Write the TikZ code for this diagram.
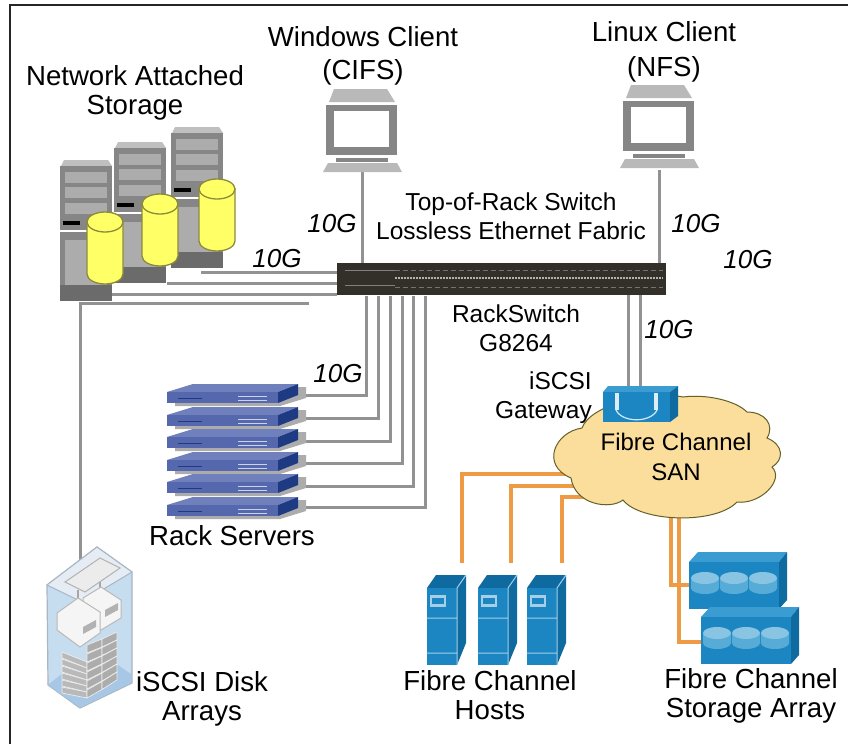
\documentclass[tikz,border=0pt]{standalone}
\usepackage{fontspec}
\setmainfont{Liberation Sans}
\usepackage{tikz}
\usetikzlibrary{calc}

\definecolor{cablegray}{HTML}{929292}
\definecolor{fcorange}{HTML}{EF9B45}
\definecolor{fcblue}{HTML}{1B86C2}
\definecolor{fcdark}{HTML}{0F6AA0}
\definecolor{fclight}{HTML}{3A9CD0}
\definecolor{cloudfill}{HTML}{FBDD9C}
\definecolor{rackblue}{HTML}{5568AE}
\definecolor{racktop}{HTML}{6F80BC}
\definecolor{rackdark}{HTML}{1E3A82}
\definecolor{diskyellow}{HTML}{FFFF66}
\definecolor{diskedge}{HTML}{8C8A3C}
\definecolor{isside}{HTML}{C6DCEF}
\definecolor{isfloor}{HTML}{A6C8E6}
\definecolor{istop}{HTML}{E6ECF3}
\definecolor{isedge}{HTML}{A9B6C4}

\tikzset{
  lbl/.style={align=center, inner sep=0pt, font=\fontsize{27.6}{29}\selectfont},
  smalllbl/.style={align=center, inner sep=0pt, font=\fontsize{24.5}{29}\selectfont},
  speed/.style={inner sep=0pt, font=\fontsize{26}{29}\selectfont\itshape},
  cable/.style={cablegray, line width=3pt},
  fccable/.style={fcorange, line width=3.6pt},
  box/.style={inner sep=0pt, outer sep=0pt, anchor=north west},
  pics/nasbox/.style={code={
    \fill[gray!50] (1,0) -- (4,-6) -- (48,-6) -- (52,0) -- cycle;
    \fill[gray!95] (0,0) rectangle (52,119);
    \fill[black!58] (0,119) rectangle (52,135);
    \foreach \y in {6,21,37} \fill[gray!65] (5,\y) rectangle (47,\y+11);
    \fill[black] (3,55) rectangle (20,59);
    \fill[white] (0,64) rectangle (30,66);
    \fill[gray!65] (5,74) rectangle (47,119);
  }},
  pics/nasdisk/.style={code={
    \draw[diskedge, line width=1.3pt, fill=diskyellow]
      (-18,0) -- (-18,52) arc[start angle=180, end angle=0, x radius=18, y radius=10] -- (18,0) -- cycle;
    \draw[diskedge, line width=1.3pt, fill=diskyellow] (0,0) ellipse[x radius=18, y radius=10];
  }},
  pics/client/.style={code={
    \fill[gray!55] (8,-16) -- (61,-16) -- (69,-3) -- (3,-3) -- cycle;
    \fill[gray!95] (0,0) rectangle (71,50);
    \fill[white] (8,6) rectangle (63,42);
    \fill[gray!95] (10,53) rectangle (62,57);
    \fill[gray!55] (2,58) -- (71,58) -- (76,67) -- (-3,67) -- cycle;
  }},
  pics/rackunit/.style={code={
    \fill[gray!65] (131,3) -- (139,3) -- (139,14) -- (113,22) -- (8,22) -- (8,19) -- (111,19) -- cycle;
    \fill[racktop] (0,8) -- (26,0) -- (131,0) -- (111,8) -- cycle;
    \fill[rackblue] (0,8) rectangle (111,19);
    \fill[rackdark] (111,8) -- (131,0) -- (131,11) -- (111,19) -- cycle;
    \draw[rackdark, line width=1pt] (11,14) -- (35,14);
    \draw[white!70!rackblue, line width=.8pt] (71,12) -- (100,12) (71,16) -- (100,16);
  }},
  pics/fchost/.style={code={
    \fill[fcdark] (30,13) -- (39,0) -- (39,68) -- (30,90) -- cycle;
    \fill[fcdark] (0,13) -- (9,0) -- (39,0) -- (30,13) -- cycle;
    \fill[fcblue] (0,13) rectangle (30,90);
    \draw[white!60!fcblue, line width=1pt] (30,13) -- (30,90) (30,13) -- (39,0) (0,43) -- (30,43) (0,78) -- (30,78);
    \fill[white!60!fcblue] (3,20) rectangle (19,32);
    \fill[fcblue] (5,23) rectangle (17,29);
  }},
  pics/fcdisk/.style={code={
    \fill[fclight!85!white] (-14,0) -- (-14,10) arc[start angle=180, end angle=0, x radius=14, y radius=6] -- (14,0) -- cycle;
    \fill[fclight!60!white] (0,0) ellipse[x radius=14, y radius=6];
  }},
  pics/fcarray/.style={code={
    \fill[fclight] (0,10) -- (9,0) -- (98,0) -- (90,10) -- cycle;
    \fill[fcdark] (90,10) -- (98,0) -- (98,48) -- (90,57) -- cycle;
    \fill[fcblue] (0,10) rectangle (90,57);
    \foreach \x in {16,45,74} \pic at (\x,26) {fcdisk};
  }},
}

\begin{document}
\begin{tikzpicture}[x=1pt, y=-1pt]
    \useasboundingbox (0,0) rectangle (848,744);
    \fill[white] (0,0) rectangle (848,744);
    \draw[black!85, line width=1.5pt] (10,744) -- (10,5) -- (848,5);

    % switch and the named ends of the cables
    \node[box, fill=black!85!olive, minimum width=329pt, minimum height=32pt] (switch) at (337,263) {};
    \draw[white!70!black, line width=2pt, dash pattern=on 2pt off 1pt] (395,278) -- (663,278);
    \draw[black!55, line width=1pt, dash pattern=on 5pt off 3pt] (395,270) -- (663,270) (395,287) -- (663,287);
    \draw[black!50, line width=1pt] (345,270) -- (395,270) (345,285) -- (395,285);

    \coordinate (nasA) at (201,272);
    \coordinate (nasB) at (167,283);
    \coordinate (nasC) at (112,294);
    \coordinate (nasD) at (80,303);
    \coordinate (nasEnd) at (309,303);
    \coordinate (winpc) at (362,172);
    \coordinate (linuxpc) at (659,170);
    \coordinate (gwA) at (628,386);
    \coordinate (gwB) at (640,386);
    \coordinate (portA) at (366,296);
    \coordinate (portB) at (378,296);
    \coordinate (portC) at (390,296);
    \coordinate (portD) at (402,296);
    \coordinate (portE) at (413,296);
    \coordinate (portF) at (425,296);
    \coordinate (rackA) at (305,395);
    \coordinate (rackB) at (305,418);
    \coordinate (rackC) at (305,441);
    \coordinate (rackD) at (305,463);
    \coordinate (rackE) at (305,486);
    \coordinate (rackF) at (305,507);
    \coordinate (iscsi) at (80,562);
    \coordinate (hostA) at (462,563);
    \coordinate (hostB) at (511,563);
    \coordinate (hostC) at (562,563);
    \coordinate (cloudA) at (575,474);
    \coordinate (cloudB) at (585,486);
    \coordinate (cloudC) at (592,497);
    \coordinate (cloudD) at (671,510);
    \coordinate (cloudE) at (679,510);
    \coordinate (arrayA) at (692,585);
    \coordinate (arrayB) at (703,642);

    \draw[cable] (nasA) -- (nasA -| switch.west);
    \draw[cable] (nasB) -- (nasB -| switch.west);
    \draw[cable] (nasC) -- (nasC -| switch.west);
    \draw[cable] (nasEnd) -- (nasD) -- (iscsi);
    \draw[cable] (winpc) -- (winpc |- switch.north);
    \draw[cable] (linuxpc) -- (linuxpc |- switch.north);
    \draw[cable] (gwA) -- (gwA |- switch.south);
    \draw[cable] (gwB) -- (gwB |- switch.south);
    \draw[cable] (rackA) -| (portA);
    \draw[cable] (rackB) -| (portB);
    \draw[cable] (rackC) -| (portC);
    \draw[cable] (rackD) -| (portD);
    \draw[cable] (rackE) -| (portE);
    \draw[cable] (rackF) -| (portF);

    \draw[fccable] (hostA) |- (cloudA);
    \draw[fccable] (hostB) |- (cloudB);
    \draw[fccable] (hostC) |- (cloudC);
    \draw[fccable] (cloudD) |- (arrayA);
    \draw[fccable] (cloudE) |- (arrayB);

    % cloud and gateway
    \draw[black!30!diskedge, fill=cloudfill, line width=1pt] (582,428)
      .. controls (555,432) and (540,465) .. (571,478)
      .. controls (575,505) and (610,510) .. (623,500)
      .. controls (640,522) and (715,525) .. (737,502)
      .. controls (760,505) and (785,480) .. (772,467)
      .. controls (784,460) and (784,445) .. (767,438)
      .. controls (775,425) and (765,412) .. (747,412)
      .. controls (735,400) and (705,394) .. (683,397)
      .. controls (650,390) and (590,405) .. cycle;
    \fill[fclight] (603,392) -- (608,386) -- (678,386) -- (670,392) -- cycle;
    \fill[fcdark] (670,392) -- (678,386) -- (678,416) -- (670,422) -- cycle;
    \node[box, fill=fcblue, minimum width=67pt, minimum height=30pt] (gateway) at (603,392) {};
    \draw[white!85!fcblue, line width=3.5pt] (617,393) -- (617,410) (656,393) -- (656,410);
    \draw[white!80!fcblue, line width=1.2pt] (616,410) .. controls (622,423) and (651,423) .. (657,410);

    % network attached storage
    \pic at (171,133) {nasbox};
    \pic at (114,148) {nasbox};
    \pic at (60,166) {nasbox};
    \pic at (217,189) {nasdisk};
    \pic at (160,204) {nasdisk};
    \pic at (105,222) {nasdisk};

    % clients
    \pic at (326,105) {client};
    \pic at (623,101) {client};

    % rack servers
    \foreach \y in {384,407,429,452,474,497} \pic at (167,\y) {rackunit};

    % fibre channel devices
    \pic at (427,575) {fchost};
    \pic at (478,575) {fchost};
    \pic at (527,575) {fchost};
    \pic at (689,552) {fcarray};
    \pic at (701,607) {fcarray};

    % iscsi disk arrays
    \fill[isside, draw=isedge, line width=1.2pt] (47,585) -- (97,547) -- (132,572) -- (132,683) -- (80,708) -- (48,685) -- cycle;
    \fill[isfloor] (48,685) -- (64,672) -- (118,665) -- (131,674) -- (131,683) -- (80,707) -- cycle;
    \fill[istop, draw=isedge, line width=1pt] (47,585) -- (97,547) -- (132,572) -- (82,602) -- cycle;
    \foreach \b in {0,...,5} {
      \fill[gray!55, draw=gray!15, line width=.7pt] (62,{652+\b*7}) -- (87,{662+\b*6}) -- (87,{668+\b*6}) -- (62,{658+\b*7}) -- cycle;
      \fill[gray!65, draw=gray!15, line width=.7pt] (87,{645+\b*9}) -- (102,{639+\b*8.5}) -- (102,{647+\b*8.5}) -- (87,{653+\b*9}) -- cycle;
      \fill[gray!65, draw=gray!15, line width=.7pt] (102,{639+\b*8.5}) -- (117,{632+\b*8}) -- (117,{640+\b*8}) -- (102,{647+\b*8.5}) -- cycle;
    }
    \draw[gray!70, line width=2pt] (78,590) -- (78,612) (100,580) -- (100,600);
    \fill[gray!8, draw=gray!55, line width=1pt] (83,598) -- (101,587) -- (121,600) -- (121,618) -- (101,630) -- (83,618) -- cycle;
    \fill[gray!60] (105,610) -- (118,603) -- (118,610) -- (105,617) -- cycle;
    \fill[gray!8, draw=gray!55, line width=1pt] (57,613) -- (78,598) -- (100,612) -- (100,633) -- (80,647) -- (57,630) -- cycle;
    \fill[gray!60] (83,627) -- (96,620) -- (96,627) -- (83,634) -- cycle;
    \fill[gray!15, draw=gray!60, line width=1pt] (65,582) -- (100,558) -- (120,568) -- (85,592) -- cycle;

    % labels
    \node[lbl] (naslbl) at (135,93) {Network Attached\\Storage};
    \node[lbl] (winlbl) at (363,56) {Windows Client\\[4pt](CIFS)};
    \node[lbl] (linuxlbl) at (664,52) {Linux Client\\[6pt](NFS)};
    \node[smalllbl] (torlbl) at (511,216) {Top-of-Rack Switch\\Lossless Ethernet Fabric};
    \node[smalllbl] (g8264lbl) at (516,328) {RackSwitch\\G8264};
    \node[smalllbl, align=right, anchor=east] (gwlbl) at (592,398) {iSCSI\\Gateway};
    \node[smalllbl, font=\fontsize{24}{30}\selectfont] (sanlbl) at (676,457) {Fibre Channel\\SAN};
    \node[lbl] (racklbl) at (232,536) {Rack Servers};
    \node[lbl] (diskslbl) at (202,699) {iSCSI Disk\\Arrays};
    \node[lbl] (hostslbl) at (490,695) {Fibre Channel\\Hosts};
    \node[lbl] (arraylbl) at (751,696) {Fibre Channel\\Storage Array};
    \node[speed] (sa) at (332,224) {10G};
    \node[speed] (sb) at (277,259) {10G};
    \node[speed] (sc) at (696,224) {10G};
    \node[speed] (sd) at (748,260) {10G};
    \node[speed] (se) at (338,374) {10G};
    \node[speed] (sf) at (669,330) {10G};
\end{tikzpicture}
\end{document}
